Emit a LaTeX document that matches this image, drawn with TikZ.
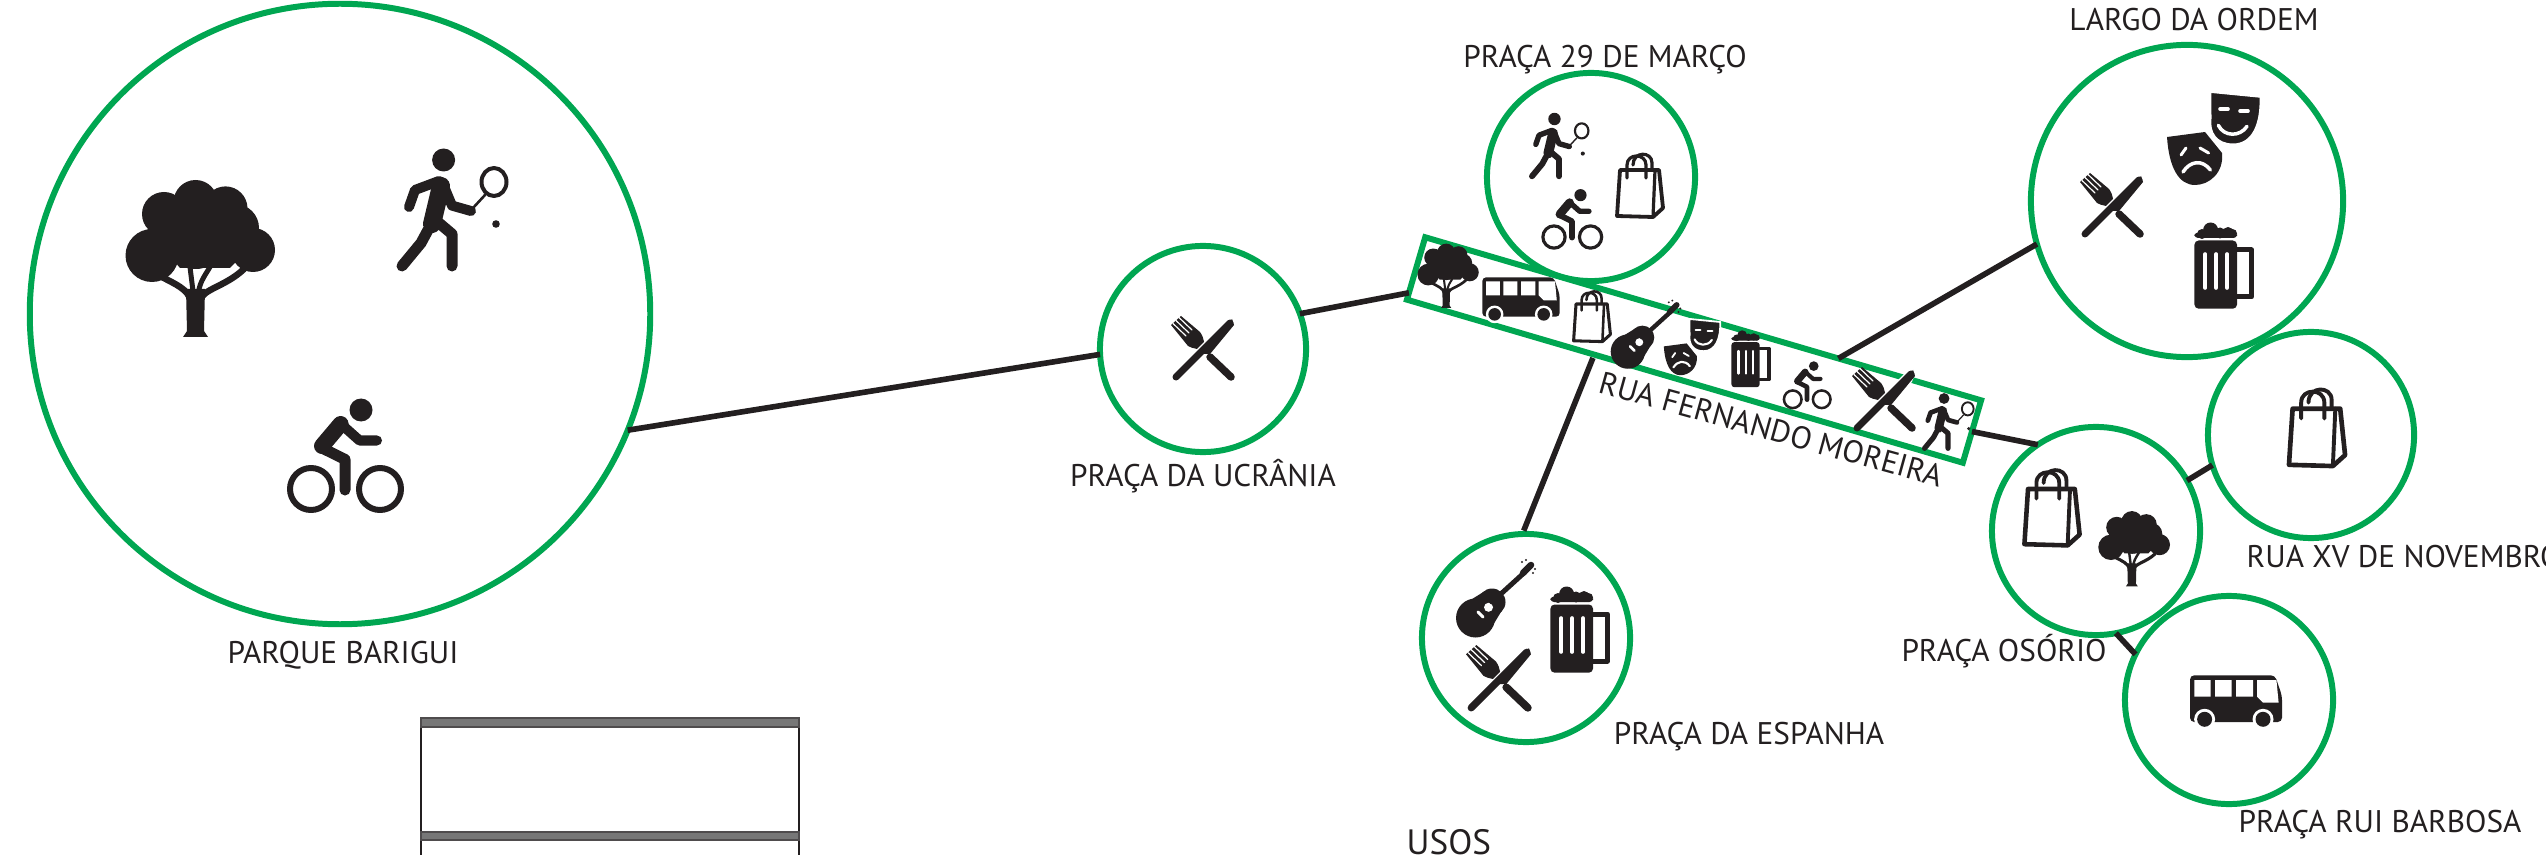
\documentclass[tikz,border=0pt]{standalone}
\usepackage{fontspec}
\setmainfont{PT Sans}
\usetikzlibrary{positioning,shapes.geometric}
\definecolor{MainGreen}{RGB}{0,166,81}
\definecolor{ink}{RGB}{35,31,32}
\definecolor{BandGray}{RGB}{119,119,119}
\tikzset{
  place/.style={circle,draw=MainGreen,line width=1.7pt,inner sep=0pt,outer sep=0pt,minimum size=#1*0.02cm},
  street/.style={rectangle,draw=MainGreen,line width=1.7pt,inner sep=0pt,outer sep=0pt,minimum width=5.79cm,minimum height=0.65cm,rotate=-16.35},
  lbl/.style={font=\fontsize{8.9}{10}\selectfont,text=ink,inner sep=0pt},
  link/.style={draw=ink,line width=1.6pt},
  ico/.style={line width=\icn*#1*0.2845pt,line cap=round,line join=round},
  pics/treeicon/.style={code={\def\icn{#1}\begin{scope}[scale=#1]
    \fill[ink] (-48,-3.5) circle[radius=26.5] (-36,-45) circle[radius=22] (-4.4,-57) circle[radius=22]
      (25.5,-50.6) circle[radius=22] (35,-31) circle[radius=24] (53,-9) circle[radius=22] (-4,-18) circle[radius=28];
    \fill[ink] (-36,-22)--(-36,-10)--(-20,9)--(30,9)--(50,-12)--(30,-40)--cycle;
    \draw[ico=6.5,ink] (-9,42) .. controls (-12,30) and (-25,25) .. (-38,18);
    \draw[ico=6.5,ink] (0,42) .. controls (2,30) and (25,28) .. (44,10);
    \draw[ico=5,ink] (-6,40)--(-10,8);
    \draw[ico=5,ink] (-2,40) .. controls (-2,25) and (4,18) .. (10,8);
    \fill[ink] (-14,30)--(5,30)--(4,72)--(8,78)--(-17,78)--(-13,72)--cycle;
  \end{scope}}},
  pics/tennisicon/.style={code={\def\icn{#1}\begin{scope}[scale=#1]
    \fill[ink] (-8.4,-50) circle[radius=11.5];
    \draw[ico=10,ink] (-13,-29)--(-37,-20)--(-43,-3);
    \draw[ico=10,ink] (-9,-26)--(0,-4.4)--(19,1);
    \draw[ico=18,ink] (-11,-24)--(-20,14);
    \draw[ico=11,ink] (-24,20)--(-31,33)--(-50,56);
    \draw[ico=11,ink] (-13,13)--(0,24)--(0,56);
    \draw[ico=4,ink] (42,-28) circle[x radius=12.5,y radius=14];
    \draw[ico=2.6,ink] (33,-15)--(21,-2);
    \fill[ink] (44,14) circle[radius=3.8];
  \end{scope}}},
  pics/bikeicon/.style={code={\def\icn{#1}\begin{scope}[scale=#1]
    \fill[ink] (16,-45) circle[radius=11.5];
    \draw[ico=6,ink] (-34,34) circle[radius=21] (35,34) circle[radius=21];
    \draw[ico=16,ink] (-4.4,-31)--(-23,-9);
    \draw[ico=10,ink] (-4,-31)--(14.5,-14.5)--(32,-14.5);
    \draw[ico=11,ink] (-23,-7)--(0,4.4)--(0,35);
  \end{scope}}},
  pics/forkicon/.style={code={\def\icn{#1}\begin{scope}[scale=#1]
    \draw[ico=7.5,ink] (7,8)--(28,28);
    \fill[ink] (-32,-24)--(-22,-33)--(-3,-17) .. controls (2,-10) and (1,-4) .. (2,1)
      .. controls (-4,0) and (-10,0) .. (-15,-3)--cycle;
    \draw[ico=1.2,white] (-30,-25.5)--(-17,-13);
    \draw[ico=1.2,white] (-27,-28.5)--(-14,-16);
    \draw[ico=1.2,white] (-24,-31.5)--(-11,-19);
    \draw[ico=11,white] (-18,20)--(24,-22);
    \draw[ico=7,ink] (-27,28)--(27,-26);
    \fill[ink] (-5,5)--(29,-30)--(31,-24)--(7,5)--cycle;
  \end{scope}}},
  pics/bagicon/.style={code={\def\icn{#1}\begin{scope}[scale=#1]
    \draw[ico=3.8,ink] (-20,-15)--(19,-15)--(23,23)--(13,32)--(-23,31)--cycle;
    \draw[ico=3.2,ink] (15,-15)--(13,32);
    \draw[ico=3.2,ink] (-13,-7)--(-13,-20) .. controls (-13,-32) and (6,-32) .. (6,-20)--(6,-7);
    \draw[ico=3.2,ink] (-7,-20) .. controls (-7,-34) and (12,-34) .. (12,-22)--(12,-15);
  \end{scope}}},
  pics/beericon/.style={code={\def\icn{#1}\begin{scope}[scale=#1]
    \fill[ink,rounded corners=\icn*1.2pt] (-29.6,-25.5) rectangle (13,42.7);
    \fill[ink,rounded corners=\icn*1pt] (-29.6,-33.5) rectangle (13,-28);
    \fill[ink] (-13.4,-36) circle[radius=7.5] (-4,-33) circle[radius=5.5] (4,-33.5) circle[radius=5.5] (8.5,-32.5) circle[radius=4.5] (-22,-32) circle[radius=5];
    \draw[ico=3.6,white] (-18.8,-12)--(-18.8,22);
    \draw[ico=3.6,white] (-8,-12)--(-8,22);
    \draw[ico=3.6,white] (3,-12)--(3,22);
    \draw[ico=5,ink] (13,-16)--(27.4,-16)--(27.4,31)--(13,31);
  \end{scope}}},
  pics/masksicon/.style={code={\def\icn{#1}\begin{scope}[scale=#1]
    \fill[ink] (-47,-1)--(-9,-6)--(8,15) .. controls (10,35) and (-5,47) .. (-19,47) .. controls (-35,47) and (-45,30) .. cycle;
    \draw[ico=3,white] (-33,17)--(-28,10);
    \draw[ico=3,white] (-14,10)--(-5.4,15);
    \draw[ico=3.5,white] (-31,34) .. controls (-24,23) and (-12,21) .. (-3.6,32);
    \draw[white,line width=\icn*3*0.2845pt,fill=ink] (-4.3,-46.7)--(47,-41.7) .. controls (48,-15) and (40,7) .. (19,7) .. controls (2,7) and (-6,-5) .. (-4,-20)--cycle;
    \draw[ico=3.6,white] (6,-29)--(14,-29);
    \draw[ico=3.6,white] (26,-27)--(34,-27);
    \draw[ico=3.5,white] (4.3,-12.7) .. controls (10,-1) and (26,-1) .. (33,-11.7);
  \end{scope}}},
  pics/guitaricon/.style={code={\def\icn{#1}\begin{scope}[scale=#1]
    \fill[ink] (-19.5,20) circle[radius=19.5] (-3,4) circle[radius=13.5];
    \fill[ink] (-31,6)--(-10,-7)--(9,9)--(-5,32)--cycle;
    \fill[white] (-6.5,9.3) circle[radius=4.5];
    \draw[ico=3,white] (-17,14)--(-12,19);
    \draw[ico=5,ink] (-3,4)--(30,-26);
    \draw[ico=6.5,ink] (28,-25)--(36,-33);
    \fill[ink] (27,-36) circle[radius=1.2] (31,-38) circle[radius=1.2] (40,-29) circle[radius=1.2] (38,-25) circle[radius=1.2];
  \end{scope}}},
  pics/busicon/.style={code={\def\icn{#1}\begin{scope}[scale=#1]
    \fill[ink,rounded corners=\icn*1.2pt] (-46,-25.7)--(39,-25.7)--(46,-5)--(46,21)--(-46,21)--cycle;
    \fill[white] (-41.6,-21) rectangle (-25.3,-4.3) (-21,-21) rectangle (-4.3,-4.3) (0,-21) rectangle (17,-4.3);
    \fill[white] (21,-21)--(40.4,-21)--(42.6,1.7)--(27,1.7)--(21,-4.3)--cycle;
    \fill[white] (-31.4,18.3) circle[radius=10.5] (27,18.3) circle[radius=10.5];
    \fill[ink] (-31.4,18.3) circle[radius=7.5] (27,18.3) circle[radius=7.5];
  \end{scope}}},
}
\begin{document}
\begin{tikzpicture}[x=0.01cm,y=-0.01cm]
\useasboundingbox (0,0) rectangle (2546,855);

\node[place=310] (barigui) at (340,314) {};
\node[place=103] (ucrania) at (1203,349) {};
\node[place=104] (marco) at (1591,177) {};
\node[place=156] (largo) at (2187,201) {};
\node[place=103] (novembro) at (2311,435) {};
\node[place=104] (osorio) at (2096,531) {};
\node[place=104] (rui) at (2229,700) {};
\node[place=104] (espanha) at (1526,638) {};
\node[street] (rua) at (1694,350) {};

\node[lbl, below=0.16cm of barigui, xshift=0.03cm] (lbarigui) {PARQUE BARIGUI};
\node[lbl, below=0.06cm of ucrania] (lucrania) {PRAÇA DA UCRÂNIA};
\node[lbl, above=-0.02cm of marco, xshift=0.14cm] (lmarco) {PRAÇA 29 DE MARÇO};
\node[lbl, above=0.13cm of largo, xshift=0.07cm] (llargo) {LARGO DA ORDEM};
\node[lbl, anchor=west] (lnovembro) at (2246,557) {RUA XV DE NOVEMBRO};
\node[lbl] (losorio) at (2004,651) {PRAÇA OSÓRIO};
\node[lbl] (lespanha) at (1749,737) {PRAÇA DA ESPANHA};
\node[lbl] (lrui) at (2380,825) {PRAÇA RUI BARBOSA};
\node[lbl, rotate=-15.5] (lrua) at (1771,429) {RUA FERNANDO MOREIRA};
\node[lbl, anchor=west, font=\fontsize{10}{10}\selectfont] (lusos) at (1406,842) {USOS};

\draw[link] (barigui.-22.4)--(ucrania.183);
\draw[link] (ucrania.20)--(rua.185.8);
\draw[link,shorten <=1pt,shorten >=1pt] (rua.199.1)--(espanha.92);
\draw[link] (rua.13.1)--(largo.196);
\draw[link] (rua.east)--(osorio.124.3);
\draw[link] (osorio.29.7)--(novembro.197);
\draw[link] (osorio.-79.4)--(rui.154.4);

\pic at (200,259) {treeicon=1};
\pic at (452,210) {tennisicon=1};
\pic at (345,455) {bikeicon=1};
\pic at (1203,349) {forkicon=1};
\pic at (1559,146) {tennisicon=0.54};
\pic at (1572,219) {bikeicon=0.53};
\pic at (1640,185) {bagicon=1};
\pic at (2112,206) {forkicon=1};
\pic at (2214,138) {masksicon=1};
\pic at (2224,266) {beericon=1};
\pic at (2317,427) {bagicon=1.22};
\pic at (2052,507) {bagicon=1.2};
\pic at (2134,549) {treeicon=0.48};
\pic at (2236,701) {busicon=1};
\pic at (1495,598) {guitaricon=1};
\pic at (1580,630) {beericon=1};
\pic at (1499,679) {forkicon=1.03};
\pic at (1448,276) {treeicon=0.41};
\pic at (1521,299) {busicon=0.84};
\pic at (1592,316) {bagicon=0.8};
\pic at (1645,334) {guitaricon=0.88};
\pic at (1692,347) {masksicon=0.6};
\pic at (1751,359) {beericon=0.66};
\pic at (1807,385) {bikeicon=0.42};
\pic at (1884,400) {forkicon=1};
\pic at (1948,422) {tennisicon=0.47};

\draw[draw=ink,line width=0.4pt] (421,718)--(421,855);
\draw[draw=ink,line width=0.4pt] (799,718)--(799,855);
\draw[fill=BandGray,draw=ink!80,line width=0.3pt] (421,718) rectangle (799,727);
\draw[fill=BandGray,draw=ink!80,line width=0.3pt] (421,832) rectangle (799,840);
\end{tikzpicture}
\end{document}
